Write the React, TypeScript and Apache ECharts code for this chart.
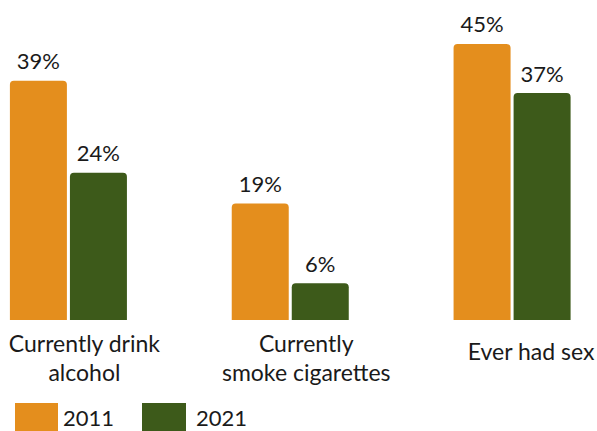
import React, { useEffect, useRef } from "react";
import * as echarts from "echarts";

const categories = ["Currently drink\nalcohol", "Currently\nsmoke cigarettes", "Ever had sex"];
const values2011 = [39, 19, 45];
const values2021 = [24, 6, 37];
const seriesNames = ["2011", "2021"];
const colors = ["#E48E1D", "#3D5A1A"];

export default function App() {
  const ref = useRef<HTMLDivElement>(null);
  useEffect(() => {
    const chart = echarts.init(ref.current!, undefined, { renderer: "svg" });
    const font = "Lato";
    const labelCfg = {
      show: true,
      position: "top",
      distance: 9,
      fontFamily: font,
      fontSize: 22,
      color: "#1a1a1a",
      formatter: "{c}%",
    };
    chart.setOption({
      animation: false,
      backgroundColor: "#ffffff",
      textStyle: { fontFamily: font },
      grid: { left: -42.5, right: -26, top: 13.3, bottom: 111, containLabel: false, outerBoundsMode: "none" },
      legend: [
        {
          data: [seriesNames[0]],
          left: 10,
          top: 398,
          itemWidth: 43,
          itemHeight: 28,
          icon: "rect",
          textStyle: { fontFamily: font, fontSize: 22, lineHeight: 22, color: "#1a1a1a", padding: [0, 0, 0, 0] },
        },
        {
          data: [seriesNames[1]],
          left: 137,
          top: 398,
          itemWidth: 44,
          itemHeight: 28,
          icon: "rect",
          textStyle: { fontFamily: font, fontSize: 22, lineHeight: 22, color: "#1a1a1a", padding: [0, 0, 0, 5] },
        },
      ],
      xAxis: {
        type: "category",
        data: categories,
        axisLine: { show: false },
        axisTick: { show: false },
        axisLabel: {
          interval: 0,
          margin: 8,
          fontFamily: font,
          fontSize: 23,
          lineHeight: 29,
          color: "#1a1a1a",
          padding: [0, 0, 0, 32],
          formatter: (v: string) => (v.indexOf("\n") < 0 ? "{s|" + v + "}" : v),
          rich: {
            s: { fontFamily: font, fontSize: 23, lineHeight: 29, color: "#1a1a1a", padding: [17, 0, 0, 6] },
          },
        },
      },
      yAxis: {
        type: "value",
        min: 0,
        max: 50,
        show: false,
        splitLine: { show: false },
      },
      series: [
        {
          name: seriesNames[0],
          type: "bar",
          data: values2011,
          barWidth: 57,
          barGap: "5.3%",
          itemStyle: { color: colors[0], borderRadius: [4, 4, 0, 0] },
          label: labelCfg,
        },
        {
          name: seriesNames[1],
          type: "bar",
          data: values2021,
          barWidth: 57,
          barGap: "5.3%",
          itemStyle: { color: colors[1], borderRadius: [4, 4, 0, 0] },
          label: labelCfg,
        },
      ],
    });
    return () => chart.dispose();
  }, []);
  return <div ref={ref} style={{ width: 597, height: 431, position: "absolute", left: 0, top: 0 }} />;
}
